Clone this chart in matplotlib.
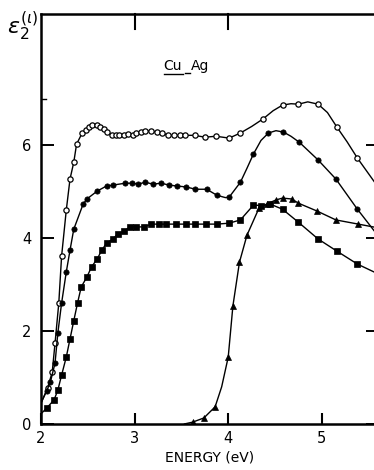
import matplotlib
matplotlib.use("Agg")
import matplotlib.pyplot as plt

# interband eps2 spectra, Cu-Ag
# open circles
oc_x = [2.07, 2.12, 2.15, 2.19, 2.22, 2.27, 2.31, 2.35, 2.38, 2.44, 2.48, 2.51,
        2.55, 2.60, 2.63, 2.67, 2.70, 2.76, 2.80, 2.83, 2.89, 2.93, 2.98, 3.02,
        3.07, 3.11, 3.18, 3.24, 3.29, 3.36, 3.42, 3.48, 3.54, 3.64, 3.75, 3.87,
        4.01, 4.13, 4.37, 4.58, 4.75, 4.96, 5.16, 5.38]
oc_y = [0.77, 1.12, 1.74, 2.60, 3.61, 4.60, 5.27, 5.63, 6.02, 6.26, 6.32, 6.39,
        6.43, 6.43, 6.39, 6.34, 6.28, 6.21, 6.21, 6.21, 6.21, 6.24, 6.21, 6.26,
        6.28, 6.30, 6.30, 6.28, 6.26, 6.21, 6.21, 6.21, 6.21, 6.21, 6.17, 6.19,
        6.15, 6.26, 6.56, 6.86, 6.88, 6.88, 6.39, 5.72]
oc_trace_x = [2.0, 4.25, 4.48, 4.67, 4.85, 5.06, 5.27, 5.6]
oc_trace_y = [0.45, 6.40, 6.74, 6.89, 6.93, 6.70, 6.07, 5.10]

# filled circles
fc_x = [2.06, 2.10, 2.15, 2.18, 2.22, 2.27, 2.31, 2.35, 2.45, 2.49, 2.60, 2.70,
        2.77, 2.90, 2.97, 3.04, 3.11, 3.20, 3.28, 3.37, 3.45, 3.55, 3.65, 3.77,
        3.88, 4.01, 4.13, 4.27, 4.43, 4.59, 4.76, 4.96, 5.15, 5.38]
fc_y = [0.71, 0.90, 1.31, 1.96, 2.60, 3.27, 3.74, 4.19, 4.73, 4.84, 5.01, 5.12,
        5.14, 5.18, 5.18, 5.16, 5.20, 5.16, 5.18, 5.14, 5.12, 5.10, 5.05, 5.05,
        4.92, 4.88, 5.20, 5.81, 6.26, 6.28, 6.06, 5.68, 5.27, 4.62]
fc_trace_x = [2.0, 3.97, 4.20, 4.35, 4.51, 4.67, 5.6]
fc_trace_y = [0.45, 4.87, 5.50, 6.10, 6.31, 6.19, 4.05]

# squares
sq_x = [2.06, 2.14, 2.18, 2.22, 2.27, 2.31, 2.35, 2.39, 2.43, 2.49, 2.54, 2.60,
        2.65, 2.70, 2.77, 2.82, 2.89, 2.95, 3.02, 3.10, 3.18, 3.26, 3.34, 3.44,
        3.55, 3.65, 3.76, 3.88, 4.01, 4.13, 4.27, 4.35, 4.45, 4.58, 4.75, 4.96,
        5.16, 5.38]
sq_y = [0.34, 0.52, 0.73, 1.05, 1.44, 1.83, 2.22, 2.60, 2.95, 3.16, 3.38, 3.55,
        3.74, 3.89, 3.98, 4.09, 4.15, 4.24, 4.24, 4.24, 4.30, 4.30, 4.30, 4.30,
        4.30, 4.30, 4.30, 4.30, 4.32, 4.39, 4.71, 4.70, 4.73, 4.62, 4.34, 3.98,
        3.72, 3.44]
sq_trace_x = [2.0, 5.6]
sq_trace_y = [0.22, 3.23]

# triangles
tr_x = [3.62, 3.74, 3.86, 4.00, 4.05, 4.12, 4.20, 4.33, 4.41, 4.51, 4.58, 4.68,
        4.75, 4.95, 5.15, 5.39]
tr_y = [0.04, 0.13, 0.37, 1.44, 2.54, 3.48, 4.06, 4.65, 4.73, 4.82, 4.86, 4.84,
        4.75, 4.58, 4.39, 4.30]
tr_trace_x = [3.53, 3.93, 5.6]
tr_trace_y = [0.0, 0.80, 4.22]

series = [
    (oc_x, oc_y, oc_trace_x, oc_trace_y, dict(marker="o", ms=3.8, mfc="white", mew=0.9)),
    (fc_x, fc_y, fc_trace_x, fc_trace_y, dict(marker="o", ms=3.8, mfc="black", mew=0.5)),
    (sq_x, sq_y, sq_trace_x, sq_trace_y, dict(marker="s", ms=4.3, mfc="black", mew=0.5)),
    (tr_x, tr_y, tr_trace_x, tr_trace_y, dict(marker="^", ms=5.0, mfc="black", mew=0.5)),
]

fig = plt.figure(figsize=(3.74, 4.70), dpi=100)
ax = fig.add_axes([41 / 374, 46 / 470, 337 / 374, 410 / 470])

for mx, my, tx, ty, style in series:
    pts = sorted(zip(list(mx) + list(tx), list(my) + list(ty)))
    ax.plot([p[0] for p in pts], [p[1] for p in pts], color="black", lw=1.0,
            solid_capstyle="round")
    ax.plot(mx, my, ls="none", mec="black", color="black", **style)

ax.set_xlim(2, 5.6)
ax.set_ylim(0, 8.82)

for s in ax.spines.values():
    s.set_linewidth(1.8)

ax.set_xticks([2, 3, 4, 5])
ax.set_yticks([0, 2, 4, 6])
ax.tick_params(axis="x", direction="in", length=8, width=1.5, pad=5,
               labelsize=10.5, top=False)
ax.tick_params(axis="y", direction="in", length=9, width=1.4, pad=7,
               labelsize=10.5, right=True)

# extra ticks along the top and a short one at 7
for xv in [3, 4]:
    ax.plot([xv, xv], [8.82, 8.82 - 0.32], color="black", lw=1.5, clip_on=False)
ax.plot([2, 2.05], [7, 7], color="black", lw=1.0)

ax.set_xlabel("ENERGY (eV)", fontsize=10, labelpad=3)

fig.text(7 / 374, 1 - 9 / 470, r"$\varepsilon_2^{(\iota)}$", fontsize=16,
         va="top", ha="left")

ax.text(3.31, 7.7, "Cu", fontsize=10, va="center", ha="left")
ax.plot([3.31, 3.52], [7.52, 7.52], color="black", lw=1.0)
ax.plot([3.54, 3.59], [7.55, 7.55], color="black", lw=1.0)
ax.text(3.60, 7.7, "Ag", fontsize=10, va="center", ha="left")

fig.savefig("out.png", dpi=100)
